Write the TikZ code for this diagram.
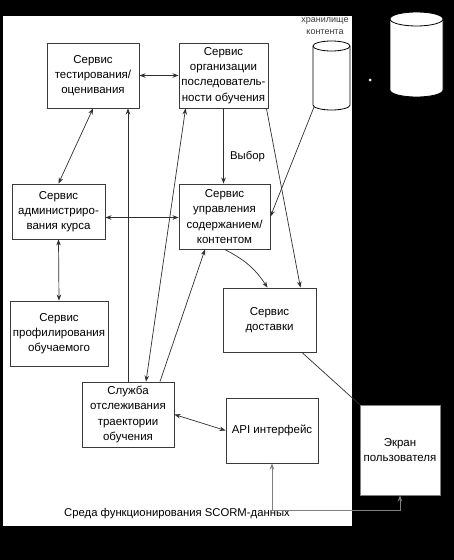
\documentclass[tikz,border=0pt]{standalone}
\usepackage{fontspec}
\setmainfont{Liberation Sans}
\usepackage{tikz}
\usetikzlibrary{arrows.meta}
\definecolor{boxgray}{HTML}{3a3a3a}
\definecolor{linegray}{HTML}{303030}
\tikzstyle{srv} = [draw=boxgray, fill=white, line width=0.9pt, align=center, inner sep=2pt, font=\fontsize{11.5}{15.3}\selectfont]
\tikzstyle{envbox} = [fill=white, inner sep=0pt, minimum width=349pt, minimum height=510pt]
\tikzstyle{store} = [draw=black, fill=white, line width=0.8pt]
\tikzstyle{conn} = [draw=linegray, line width=0.7pt, >={Stealth[length=6pt,width=4.5pt]}]

\begin{document}
\begin{tikzpicture}[x=1pt,y=-1pt]
			\fill[black] (0,0) rectangle (454,560);
			\node[envbox] (env) at (177.5,271) {};
			\node[font=\fontsize{11.3}{13}\selectfont] (envlabel) at (177,514) {Среда функционирования SCORM-данных};
			% сервисы
			\node[srv, minimum width=92pt, minimum height=65pt] (test) at (93,75.5) {Сервис\\тестирования/\\оценивания};
			\node[srv, minimum width=89pt, minimum height=65pt] (org) at (223.5,75.5) {Сервис\\организации\\последователь-\\ности обучения};
			\node[srv, minimum width=93pt, minimum height=55pt] (admin) at (58.5,211.5) {Сервис\\администриро-\\вания курса};
			\node[srv, minimum width=91pt, minimum height=65pt] (upr) at (224.5,216.5) {Сервис\\управления\\содержанием/\\контентом};
			\node[srv, minimum width=98pt, minimum height=65pt] (prof) at (59,333.5) {Сервис\\профилирования\\обучаемого};
			\node[srv, minimum width=93pt, minimum height=64pt] (dost) at (269.5,320) {Сервис\\доставки};
			\node[srv, minimum width=92pt, minimum height=65pt] (track) at (128,414.5) {Служба\\отслеживания\\траектории\\обучения};
			\node[srv, minimum width=92pt, minimum height=65pt] (api) at (272,430.5) {API интерфейс};
			\node[srv, draw=gray, minimum width=80pt, minimum height=90pt] (ekran) at (400,450) {Экран\\пользователя};
			% хранилища
			\filldraw[store] (313,46) -- (313,105) arc[start angle=180, end angle=0, x radius=18.5, y radius=5] -- (350,46) arc[start angle=0, end angle=-180, x radius=18.5, y radius=5] -- cycle;
			\draw[store] (313,46) arc[start angle=180, end angle=0, x radius=18.5, y radius=5];
			\coordinate (stor) at (314,107);
			\node[align=center, text=boxgray, font=\fontsize{9}{12.5}\selectfont] (storlabel) at (325,26) {хранилище\\контента};
			\filldraw[store] (390,19) -- (390,90) arc[start angle=180, end angle=0, x radius=26.5, y radius=7] -- (443,19) arc[start angle=0, end angle=-180, x radius=26.5, y radius=7] -- cycle;
			\draw[store] (390,19) arc[start angle=180, end angle=0, x radius=26.5, y radius=7];
			\fill[white] (370,80) circle (1.5);
			% связи
			\draw[conn,<->] (test.east) -- (org.west);
			\draw[conn,<->] (test.south) -- (admin.north);
			\draw[conn,->] (track.north) -- (track.north |- test.south);
			\draw[conn,<->] ([xshift=7pt]org.south west) -- ([xshift=18pt]track.north);
			\draw[conn,->] ([xshift=32pt]track.north) -- ([xshift=-19.5pt]upr.south);
			\draw[conn,->] (org.south) -- node[right=3pt, pos=0.64, font=\fontsize{11.3}{13}\selectfont] (choice) {Выбор} (org.south |- upr.north);
			\draw[conn,->] ([xshift=-2pt]org.south east) -- ([xshift=-16pt]dost.north east);
			\draw[conn,->] (stor) -- (upr.east);
			\draw[conn,<->] ([yshift=-6pt]admin.east) -- ([yshift=-6pt]admin.east -| upr.west);
			\draw[conn,<->] (admin.south) -- (prof.north);
			\draw[conn,->] (upr.south) to[bend left=15] ([xshift=-2pt]dost.north);
			\draw[conn,<->] (track.east) -- (api.west);
			\draw[conn] (dost.-45) -- (ekran.north west);
			\draw[conn,draw=gray,<->] (ekran.south) -- ++(0,15) -| (api.south);
		\end{tikzpicture}
\end{document}
